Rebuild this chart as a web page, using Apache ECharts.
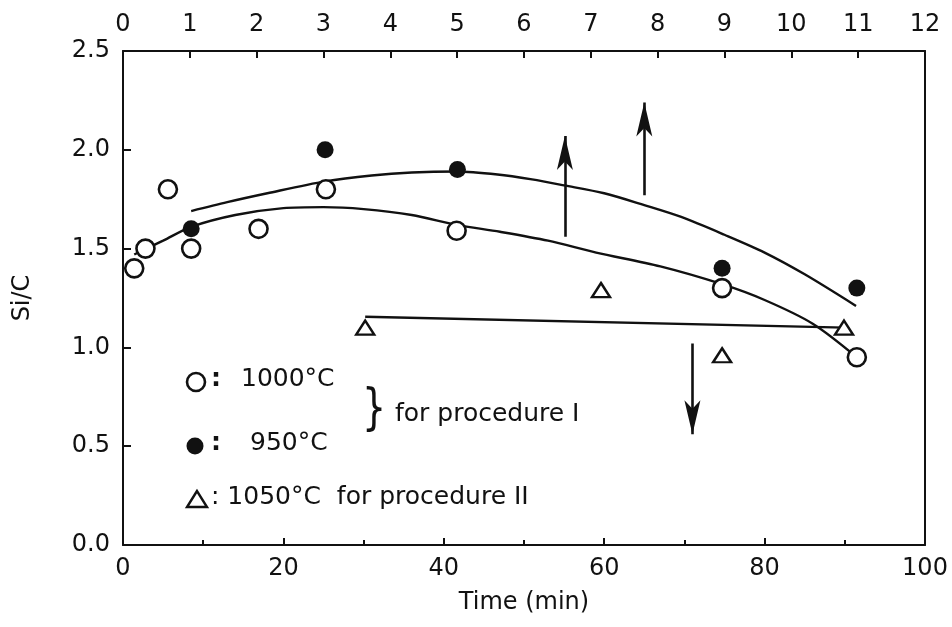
<!DOCTYPE html>
<html>
<head>
<meta charset="utf-8">
<script src="https://cdn.jsdelivr.net/npm/echarts@6/dist/echarts.min.js"></script>
<style>
* {margin: 0; padding: 0;}
#main {width: 952px; height: 627px; background: #fff;}
</style>
</head>
<body>
<div id="main"></div>
<script type="text/javascript">
// 1000°C 数据点 (procedure I)
const TIME_1000 = [1.4, 2.8, 5.6, 8.5, 16.9, 25.3, 41.6, 74.7, 91.5];
const SIC_1000 = [1.40, 1.50, 1.80, 1.50, 1.60, 1.80, 1.59, 1.30, 0.95];

// 950°C 数据点 (procedure I)
const TIME_950 = [8.5, 25.2, 41.7, 74.7, 91.5];
const SIC_950 = [1.60, 2.00, 1.90, 1.40, 1.30];

// 1050°C 数据点 (procedure II)
const TIME_1050 = [30.2, 59.6, 74.7, 89.9];
const SIC_1050 = [1.10, 1.29, 0.96, 1.10];

// 拟合曲线
const FIT_950_T = [8.5, 13, 18, 25.2, 31, 36, 41.6, 46.7, 51, 55.0, 60, 65, 69.6, 75, 80.0, 85, 91.4];
const FIT_950_Y = [1.69, 1.735, 1.78, 1.84, 1.87, 1.885, 1.89, 1.875, 1.85, 1.82, 1.78, 1.72, 1.66, 1.57, 1.48, 1.37, 1.21];
const FIT_1000_T = [1.4, 5, 8.5, 14, 20, 25, 30, 36, 41.6, 47, 53, 59, 67, 74.7, 80, 86, 91.5];
const FIT_1000_Y = [1.47, 1.54, 1.61, 1.67, 1.705, 1.71, 1.70, 1.67, 1.62, 1.585, 1.54, 1.48, 1.41, 1.32, 1.24, 1.12, 0.95];
const FIT_1050_T = [30.2, 90];
const FIT_1050_Y = [1.155, 1.10];

// 箭头: [时间, 起点, 终点]
const ARROWS = [
    [55.1, 1.56, 2.07],
    [65.0, 1.77, 2.24],
    [71.0, 1.02, 0.56]
];

// 坐标轴刻度
const TOP_HOURS = [0, 12, 1];
const Y_RANGE = [0, 2.5, 0.5];

const FONT = 'DejaVu Sans';
const BLACK = '#111';

function zip(xs, ys) {
    return xs.map((x, i) => [x, ys[i]]);
}

const chart = echarts.init(document.getElementById('main'), null, {renderer: 'canvas'});

const axisLineStyle = {color: BLACK, width: 2};
const tickStyle = {color: BLACK, width: 2};
const labelStyle = {fontFamily: FONT, fontSize: 24, color: BLACK};

const option = {
    backgroundColor: '#fff',
    animation: false,
    grid: {left: 123, right: 27, top: 51, bottom: 82},
    xAxis: [
        {
            type: 'value',
            position: 'bottom',
            min: 0,
            max: 100,
            interval: 20,
            name: 'Time (min)',
            nameLocation: 'middle',
            nameGap: 46,
            nameTextStyle: {fontFamily: FONT, fontSize: 24, color: BLACK},
            axisLine: {onZero: false, lineStyle: axisLineStyle},
            axisTick: {inside: true, length: 7, lineStyle: tickStyle},
            minorTick: {show: true, splitNumber: 2, length: 5, lineStyle: tickStyle},
            axisLabel: Object.assign({margin: 12}, labelStyle),
            splitLine: {show: false}
        },
        {
            type: 'value',
            position: 'top',
            min: TOP_HOURS[0],
            max: TOP_HOURS[1],
            interval: TOP_HOURS[2],
            axisLine: {onZero: false, lineStyle: axisLineStyle},
            axisTick: {inside: true, length: 7, lineStyle: tickStyle},
            axisLabel: Object.assign({margin: 14}, labelStyle),
            splitLine: {show: false}
        }
    ],
    yAxis: [
        {
            type: 'value',
            position: 'left',
            min: Y_RANGE[0],
            max: Y_RANGE[1],
            interval: Y_RANGE[2],
            name: 'Si/C',
            nameLocation: 'middle',
            nameGap: 88,
            nameRotate: 90,
            nameTextStyle: {fontFamily: FONT, fontSize: 24, color: BLACK},
            axisLine: {show: true, onZero: false, lineStyle: axisLineStyle},
            axisTick: {inside: true, length: 8, lineStyle: tickStyle},
            axisLabel: Object.assign({margin: 13, formatter: v => v.toFixed(1)}, labelStyle),
            splitLine: {show: false}
        },
        {
            type: 'value',
            position: 'right',
            min: Y_RANGE[0],
            max: Y_RANGE[1],
            axisLine: {show: true, onZero: false, lineStyle: axisLineStyle},
            axisTick: {show: false},
            axisLabel: {show: false},
            splitLine: {show: false}
        }
    ],
    series: [
        {
            name: 'fit 950',
            type: 'line',
            smooth: 0.3,
            showSymbol: false,
            data: zip(FIT_950_T, FIT_950_Y),
            lineStyle: {color: BLACK, width: 2.4},
            z: 2
        },
        {
            name: 'fit 1000',
            type: 'line',
            smooth: 0.3,
            showSymbol: false,
            data: zip(FIT_1000_T, FIT_1000_Y),
            lineStyle: {color: BLACK, width: 2.4},
            z: 2
        },
        {
            name: 'fit 1050',
            type: 'line',
            showSymbol: false,
            data: zip(FIT_1050_T, FIT_1050_Y),
            lineStyle: {color: BLACK, width: 2.4},
            z: 2
        },
        {
            // 箭杆
            name: 'arrow shafts',
            type: 'lines',
            coordinateSystem: 'cartesian2d',
            symbol: ['none', 'none'],
            lineStyle: {color: BLACK, width: 2.6, opacity: 1},
            data: ARROWS.map(([t, y0, y1]) => ({coords: [[t, y0], [t, y1]]})),
            z: 3
        },
        {
            // 箭头 (arrow 符号的尖端就在数据点上)
            name: 'arrow heads',
            type: 'scatter',
            symbol: 'arrow',
            symbolSize: [12, 34],
            itemStyle: {color: BLACK, opacity: 1},
            data: ARROWS.map(([t, y0, y1]) => ({
                value: [t, y1],
                symbolRotate: y1 > y0 ? 0 : 180
            })),
            z: 3
        },
        {
            name: '1000°C',
            type: 'scatter',
            symbol: 'circle',
            symbolSize: 18,
            data: zip(TIME_1000, SIC_1000),
            itemStyle: {color: '#fff', borderColor: BLACK, borderWidth: 2.6, opacity: 1},
            z: 4
        },
        {
            name: '950°C',
            type: 'scatter',
            symbol: 'circle',
            symbolSize: 17,
            data: zip(TIME_950, SIC_950),
            itemStyle: {color: BLACK, opacity: 1},
            z: 5
        },
        {
            name: '1050°C',
            type: 'scatter',
            symbol: 'triangle',
            symbolSize: [18, 14],
            data: zip(TIME_1050, SIC_1050),
            itemStyle: {color: '#fff', borderColor: BLACK, borderWidth: 2.4, opacity: 1},
            z: 4
        }
    ],
    graphic: [
        {type: 'circle', shape: {cx: 196, cy: 382, r: 9}, style: {fill: '#fff', stroke: BLACK, lineWidth: 2.6}},
        {type: 'text', left: 211, top: 367, style: {text: ':', fontFamily: FONT, fontSize: 25, fontWeight: 'bold', fill: BLACK}},
        {type: 'text', left: 241, top: 367, style: {text: '1000°C', fontFamily: FONT, fontSize: 25, fill: BLACK}},
        {type: 'circle', shape: {cx: 195, cy: 446, r: 8.5}, style: {fill: BLACK}},
        {type: 'text', left: 211, top: 431, style: {text: ':', fontFamily: FONT, fontSize: 25, fontWeight: 'bold', fill: BLACK}},
        {type: 'text', left: 250, top: 431, style: {text: '950°C', fontFamily: FONT, fontSize: 25, fill: BLACK}},
        {type: 'text', left: 362, top: 386, scaleY: 1.3, style: {text: '}', fontFamily: FONT, fontSize: 38, fill: BLACK}},
        {type: 'text', left: 395, top: 402, style: {text: 'for procedure I', fontFamily: FONT, fontSize: 25, fill: BLACK}},
        {
            type: 'polygon',
            shape: {points: [[197, 491], [187, 507], [207, 507]]},
            style: {fill: '#fff', stroke: BLACK, lineWidth: 2.4}
        },
        {type: 'text', left: 211, top: 485, style: {text: ': 1050°C  for procedure II', fontFamily: FONT, fontSize: 25, fill: BLACK}}
    ]
};

chart.setOption(option);
</script>
</body>
</html>
